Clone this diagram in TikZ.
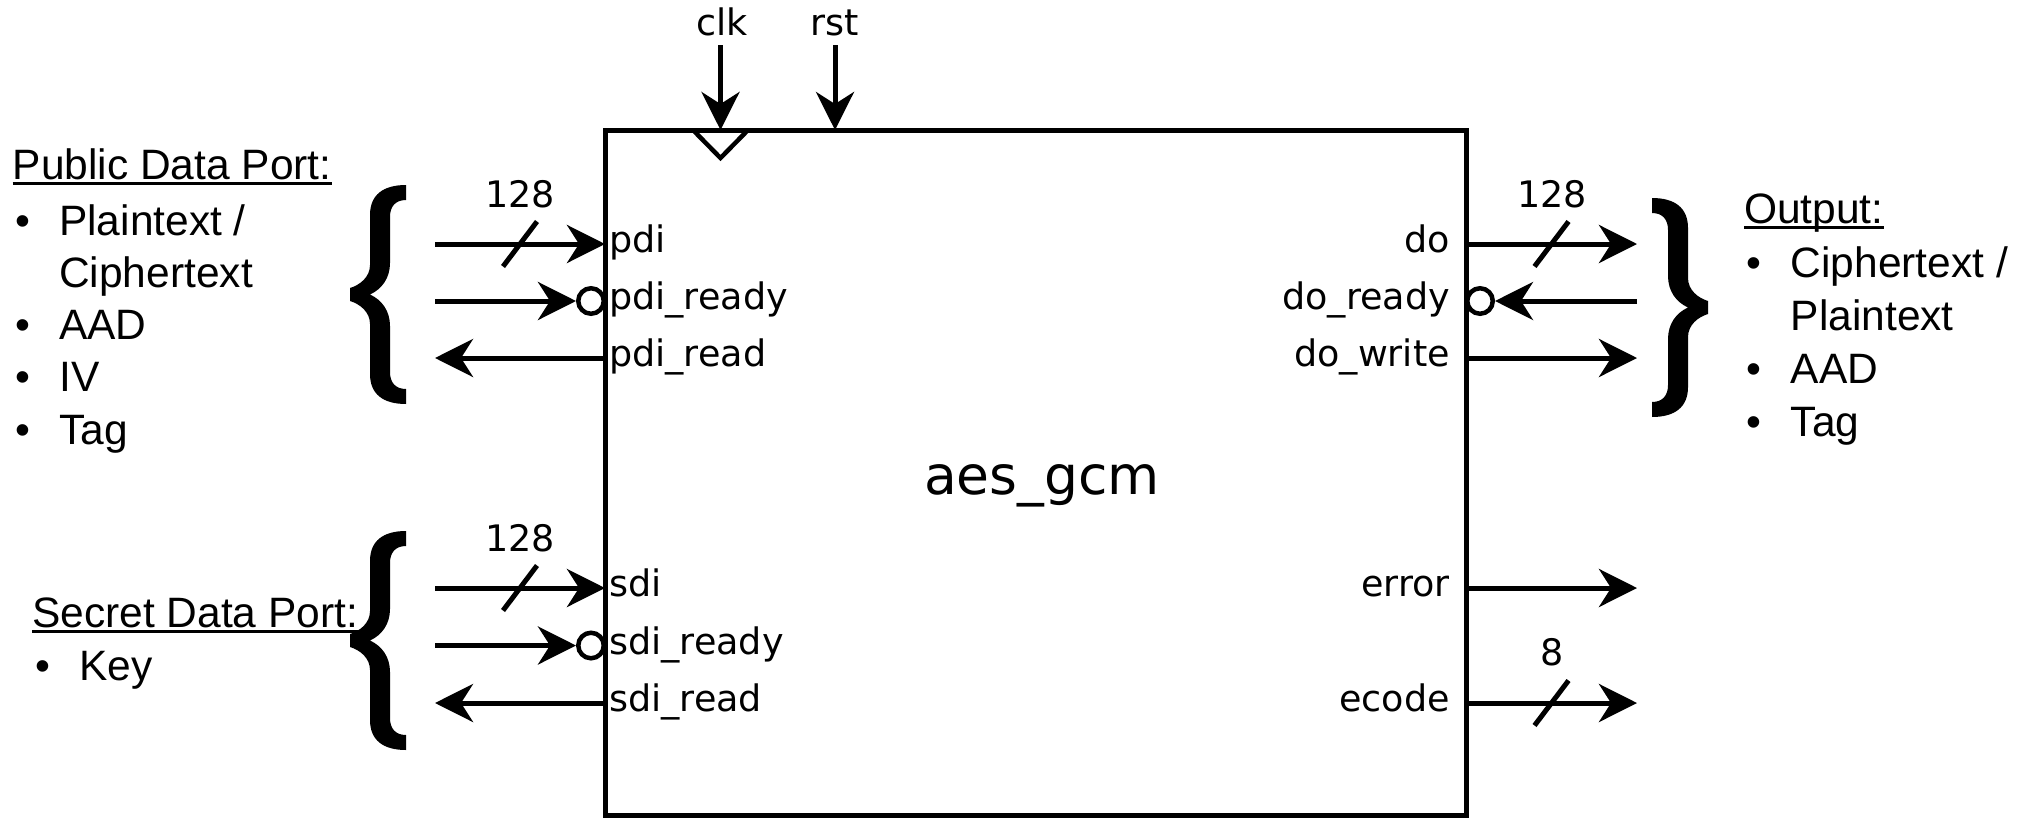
\documentclass[tikz,border=0pt]{standalone}
\usepackage{fontspec}
\setmainfont{DejaVu Sans}
\newfontfamily\libsans{Liberation Sans}
\usetikzlibrary{arrows.meta,calc}
\newcommand\bitem[1]{\makebox[44pt][l]{•}#1}
\newcommand\bcont[1]{\hspace*{44pt}#1}
\tikzset{
  sig/.style={line width=5pt, -{Stealth[length=38pt,width=38pt,inset=12pt]}},
  bubble/.style={circle, draw, line width=4.5pt, fill=white, minimum size=25.5pt, inner sep=0pt},
  port/.style={font=\fontsize{36.5}{40}\selectfont, inner sep=0pt},
  lst/.style={font=\libsans\fontsize{42.5}{52.3}\selectfont, inner sep=0pt, align=left, anchor=base west},
  ttl/.style={font=\libsans\fontsize{42.5}{51.5}\selectfont, inner sep=0pt, anchor=base west},
  uline/.style={line width=3pt},
  busslash/.pic={\draw[line width=5pt] (17,-22.5) -- (-17,22.5);},
  curly/.pic={\fill (56,0) .. controls (33,0) and (20,10) .. (20,30)
      -- (20,80) .. controls (20,92) and (10,100) .. (0,103)
      -- (0,116) .. controls (10,119) and (20,127) .. (20,139)
      -- (20,189) .. controls (20,209) and (33,219) .. (56,219)
      -- (56,204) .. controls (45,204) and (40,197) .. (40,187)
      -- (40,141) .. controls (40,126) and (32,115) .. (20,109.5)
      .. controls (32,104) and (40,93) .. (40,78)
      -- (40,32) .. controls (40,22) and (45,15) .. (56,15) -- cycle;}
}
\begin{document}
\begin{tikzpicture}[x=1pt,y=-1pt]
\useasboundingbox (0,0) rectangle (2031,819);
% main box
\node[draw, line width=5pt, minimum width=861pt, minimum height=685pt, inner sep=0pt, outer sep=0pt] (box) at (1035.5,472.5) {};
\node[font=\fontsize{53.5}{60}\selectfont, inner sep=0pt, anchor=base] (name) at (1042,494) {aes\_gcm};
% clock and reset
\coordinate (clkIn) at (720.5,45);
\coordinate (rstIn) at (835,45);
\node[port, anchor=base] (clkL) at (722,35) {clk};
\node[port, anchor=base] (rstL) at (835,35) {rst};
\draw[sig] (clkIn) -- (clkIn |- box.north);
\draw[sig] (rstIn) -- (rstIn |- box.north);
\draw[line width=4.5pt] ($(clkIn |- box.north)+(-27.5,0)$) -- ++(27.5,28) -- ++(27.5,-28);
% public data port
\coordinate (pdiIn) at (435,244);
\coordinate (prdyIn) at (435,301);
\coordinate (preadOut) at (435,358);
\node[bubble] (prdyB) at ($(box.west |- prdyIn)+(-14,0)$) {};
\draw[sig] (pdiIn) -- (box.west |- pdiIn);
\draw[sig] (prdyIn) -- (prdyB);
\draw[sig] (box.west |- preadOut) -- (preadOut);
\pic at (520,244) {busslash};
\node[port, anchor=base] (w1) at (520,207) {128};
\node[port, anchor=base west] (pdiL) at (609,252.5) {pdi};
\node[port, anchor=base west] (prdyL) at (609,309.5) {pdi\_ready};
\node[port, anchor=base west] (preadL) at (609,366.5) {pdi\_read};
% secret data port
\coordinate (sdiIn) at (435,588);
\coordinate (srdyIn) at (435,645.5);
\coordinate (sreadOut) at (435,703);
\node[bubble] (srdyB) at ($(box.west |- srdyIn)+(-14,0)$) {};
\draw[sig] (sdiIn) -- (box.west |- sdiIn);
\draw[sig] (srdyIn) -- (srdyB);
\draw[sig] (box.west |- sreadOut) -- (sreadOut);
\pic at (520,588) {busslash};
\node[port, anchor=base] (w2) at (520,551) {128};
\node[port, anchor=base west] (sdiL) at (609,596.5) {sdi};
\node[port, anchor=base west] (srdyL) at (609,654) {sdi\_ready};
\node[port, anchor=base west] (sreadL) at (609,711.5) {sdi\_read};
% outputs
\coordinate (doOut) at (1637,244);
\coordinate (drdyIn) at (1637,301);
\coordinate (dwrOut) at (1637,358);
\coordinate (errOut) at (1637,588);
\coordinate (ecOut) at (1637,703);
\node[bubble] (drdyB) at ($(box.east |- drdyIn)+(14,0)$) {};
\draw[sig] (box.east |- doOut) -- (doOut);
\draw[sig] (drdyIn) -- (drdyB);
\draw[sig] (box.east |- dwrOut) -- (dwrOut);
\draw[sig] (box.east |- errOut) -- (errOut);
\draw[sig] (box.east |- ecOut) -- (ecOut);
\pic at (1551.5,244) {busslash};
\pic at (1551.5,703) {busslash};
\node[port, anchor=base] (w3) at (1552,207) {128};
\node[port, anchor=base] (w4) at (1552,665) {8};
\node[port, anchor=base east] (doL) at (1450,252.5) {do};
\node[port, anchor=base east] (drdyL) at (1450,309.5) {do\_ready};
\node[port, anchor=base east] (dwrL) at (1450,366.5) {do\_write};
\node[port, anchor=base east] (errL) at (1450,596.5) {error};
\node[port, anchor=base east] (ecL) at (1450,711.5) {ecode};
% braces
\pic at (350,185) {curly};
\pic at (350,531) {curly};
\pic[xscale=-1] at (1708,198) {curly};
% text lists
\node[ttl] (pubT) at (12.5,179) {Public Data Port:};
\draw[uline] ([yshift=-4.5pt]pubT.base west) -- ([yshift=-4.5pt]pubT.base east);
\node[lst] (pubL) at (15,444.2) {\bitem{Plaintext /}\\\bcont{Ciphertext}\\\bitem{AAD}\\\bitem{IV}\\\bitem{Tag}};
\node[ttl] (secT) at (32,627) {Secret Data Port:};
\draw[uline] ([yshift=-4.5pt]secT.base west) -- ([yshift=-4.5pt]secT.base east);
\node[lst] (secL) at (35,680) {\bitem{Key}};
\node[ttl] (outT) at (1744,223) {Output:};
\draw[uline] ([yshift=-4.5pt]outT.base west) -- ([yshift=-4.5pt]outT.base east);
\node[lst, font=\libsans\fontsize{42.5}{53}\selectfont] (outL) at (1746.5,436) {\bitem{Ciphertext /}\\\bcont{Plaintext}\\\bitem{AAD}\\\bitem{Tag}};
\end{tikzpicture}
\end{document}
